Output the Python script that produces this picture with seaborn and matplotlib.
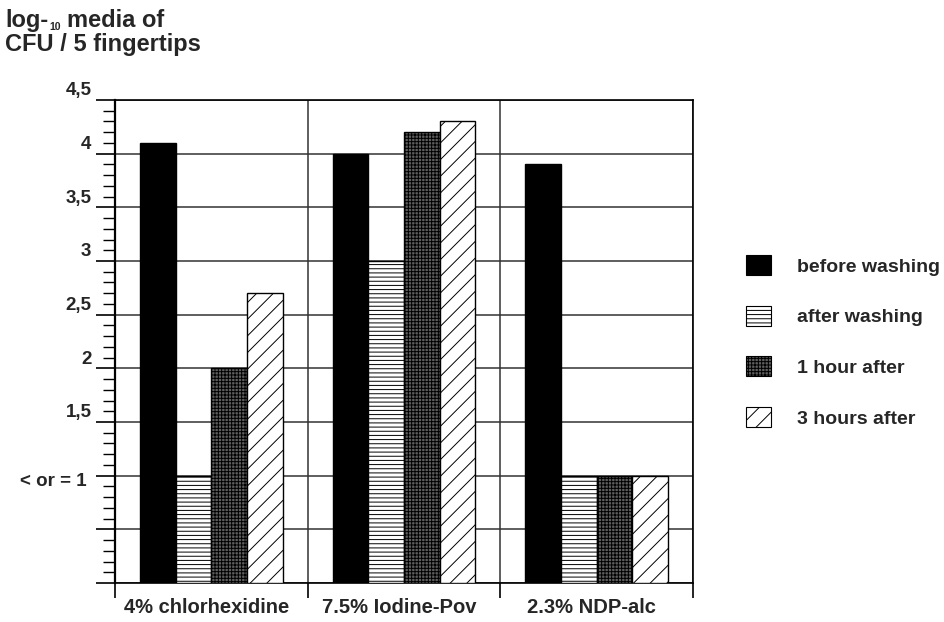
import matplotlib
matplotlib.use("Agg")
import matplotlib.pyplot as plt
import matplotlib.transforms as mtransforms
from matplotlib.patches import Patch
from matplotlib.ticker import MultipleLocator, FixedLocator
import seaborn as sns
import pandas as pd

# ---- data ----
products = ["4% chlorhexidine", "7.5% Iodine-Pov", "2.3% NDP-alc"]
times = ["before washing", "after washing", "1 hour after", "3 hours after"]
before_washing = [4.1, 4.0, 3.9]
after_washing = [1.0, 3.0, 1.0]
one_hour_after = [2.0, 4.2, 1.0]
three_hours_after = [2.7, 4.3, 1.0]
ytick_values = [0, 0.5, 1, 1.5, 2, 2.5, 3, 3.5, 4, 4.5]
ytick_labels = ["", "", "< or = 1", "1,5", "2", "2,5", "3", "3,5", "4", "4,5"]

series = [before_washing, after_washing, one_hour_after, three_hours_after]
rows = []
for t, vals in zip(times, series):
    for p, v in zip(products, vals):
        rows.append({"product": p, "time": t, "value": v})
df = pd.DataFrame(rows)

# ---- style ----
sns.set_style("white")
plt.rcParams["font.family"] = ["Liberation Sans", "DejaVu Sans"]
plt.rcParams["font.weight"] = "bold"
plt.rcParams["hatch.linewidth"] = 0.7

facecolors = ["#000000", "#ffffff", "#5e5e5e", "#ffffff"]
hatches = ["", "----", "+++++", "//"]
palette = dict(zip(times, facecolors))

fig = plt.figure(figsize=(9.44, 6.22), dpi=100)
ax = fig.add_axes([115 / 944, 1 - 583 / 622, (693 - 115) / 944, (583 - 100) / 622])

sns.barplot(data=df, x="product", y="value", hue="time", order=products,
            hue_order=times, palette=palette, width=0.74, gap=0,
            saturation=1, edgecolor="black", linewidth=1.0,
            legend=False, ax=ax, zorder=3)

for cont, h in zip(ax.containers, hatches):
    for bar in cont:
        bar.set_hatch(h)
        bar.set_edgecolor("black")

ax.set_xlim(-0.5, 2.5)
ax.set_ylim(0, 4.5)
ax.set_xlabel("")
ax.set_ylabel("")

# y ticks
ax.yaxis.set_major_locator(FixedLocator(ytick_values))
ax.set_yticklabels(ytick_labels, fontsize=13.5, fontweight="bold")
ax.yaxis.set_minor_locator(MultipleLocator(0.1))
ax.tick_params(axis="y", which="major", length=14, width=1.2, direction="out",
               pad=3, color="black", left=True)
ax.tick_params(axis="y", which="minor", length=8.5, width=1.0, direction="out",
               color="black", left=True)
for lab in ax.get_yticklabels():
    txt = lab.get_text()
    if txt.startswith("<"):
        dx, dy = -5 / 100, -4 / 100
    else:
        dx, dy = 0, 11 / 100
    lab.set_transform(lab.get_transform() +
                      mtransforms.ScaledTranslation(dx, dy, fig.dpi_scale_trans))

# x ticks
ax.set_xticks(range(len(products)))
ax.set_xticklabels(products, fontsize=14.5, fontweight="bold")
ax.xaxis.set_minor_locator(FixedLocator([-0.5, 0.5, 1.5, 2.5]))
ax.tick_params(axis="x", which="major", length=0, pad=11)
ax.tick_params(axis="x", which="minor", length=11, width=1.2, direction="out",
               color="black", bottom=True)
for lab in ax.get_xticklabels():
    lab.set_transform(lab.get_transform() +
                      mtransforms.ScaledTranslation(-5 / 100, 0, fig.dpi_scale_trans))

# grid
ax.set_axisbelow(True)
ax.grid(True, axis="y", which="major", color="#333333", linewidth=1.1, zorder=0)
ax.grid(True, axis="x", which="minor", color="#333333", linewidth=1.1, zorder=0)
ax.grid(False, axis="x", which="major")

for s in ["left", "right", "top", "bottom"]:
    ax.spines[s].set_visible(True)
    ax.spines[s].set_color("black")
    ax.spines[s].set_linewidth(1.2)
ax.spines["left"].set_linewidth(1.6)

# legend
handles = [Patch(facecolor=fc, edgecolor="black", hatch=h, linewidth=0.8)
           for fc, h in zip(facecolors, hatches)]
fig.legend(handles, times, loc="upper left",
           bbox_to_anchor=(746 / 944, 1 - 255 / 622), frameon=False,
           prop={"weight": "bold", "size": 14},
           handlelength=1.3, handleheight=1.2, handletextpad=1.3,
           labelspacing=1.55, borderpad=0, borderaxespad=0)

# title (log-10 with small subscript)
t1 = fig.text(5 / 944, 1 - 27 / 622, "log-", fontsize=17, fontweight="bold",
              ha="left", va="baseline")
fig.canvas.draw()
r = fig.canvas.get_renderer()
bb = t1.get_window_extent(renderer=r)
x_sub = bb.x1 + 1
t2 = fig.text(x_sub / 944, 1 - 30.5 / 622, "10", fontsize=7.5, fontweight="bold",
              ha="left", va="baseline")
bb2 = t2.get_window_extent(renderer=r)
fig.text((bb2.x1 + 6) / 944, 1 - 27 / 622, "media of", fontsize=17,
         fontweight="bold", ha="left", va="baseline")
fig.text(5 / 944, 1 - 51 / 622, "CFU / 5 fingertips", fontsize=17,
         fontweight="bold", ha="left", va="baseline")

fig.savefig("out.png", dpi=100)
